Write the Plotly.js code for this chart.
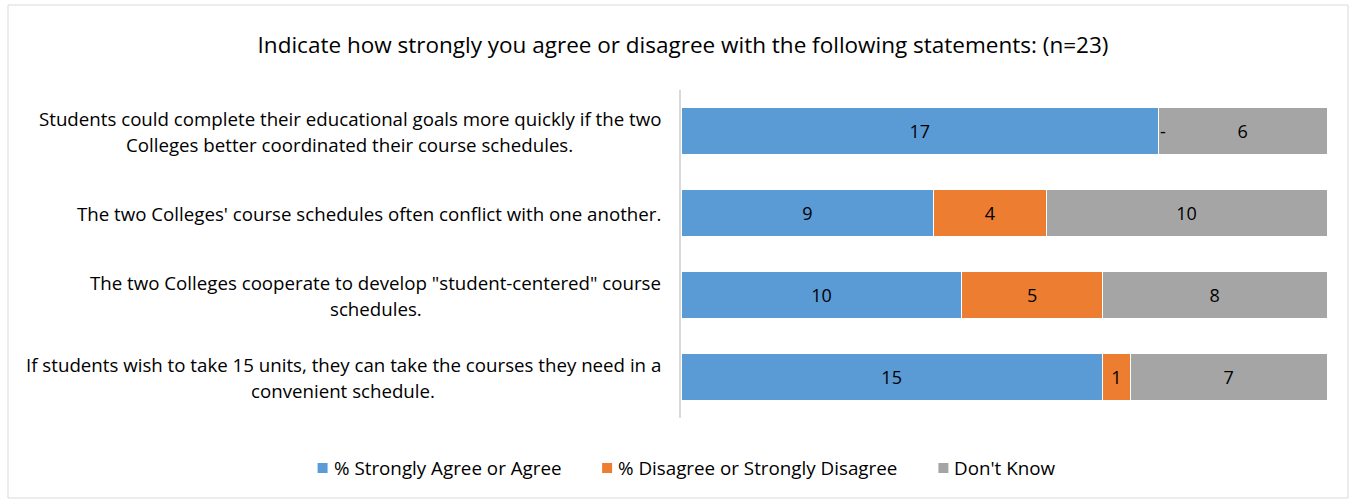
<!DOCTYPE html>
<html>
<head>
<meta charset="utf-8">
<script src="https://cdn.plot.ly/plotly-3.0.1.min.js"></script>
<style>
html,body{margin:0;padding:0;background:#fff;}
#chart{width:1356px;height:502px;}
</style>
</head>
<body>
<div id="chart"></div>
<script>
var chartTitle = "Indicate how strongly you agree or disagree with the following statements: (n=23)";
var categories = [
  "Students could complete their educational goals more quickly if the two<br>Colleges better coordinated their course schedules.",
  "The two Colleges' course schedules often conflict with one another.",
  "The two Colleges cooperate to develop \"student-centered\" course<br>schedules.",
  "If students wish to take 15 units, they can take the courses they need in a<br>convenient schedule."
];
var seriesNames = ["% Strongly Agree or Agree", "% Disagree or Strongly Disagree", "Don't Know"];
var agree    = [17, 9, 10, 15];
var disagree = [0, 4, 5, 1];
var dontKnow = [6, 10, 8, 7];
var colors = ["#5B9BD5", "#ED7D31", "#A5A5A5"];

var W = 1356, H = 502;
var M = {l: 681, r: 29, t: 90, b: 84};
var pw = W - M.l - M.r, ph = H - M.t - M.b;
function px2x(px){ return (px - M.l) / pw; }
function px2y(py){ return 1 - (py - M.t) / ph; }

var FAMILY = "Open Sans";
var FONT = "'Open Sans', sans-serif";
var LABEL_SIZE = 18.7, TITLE_SIZE = 22.5, LEGEND_SIZE = 18.8, DATA_SIZE = 18;
var LINE_H = 26;

var cnv = document.createElement("canvas").getContext("2d");
function textWidth(t, size){
  cnv.font = size + "px '" + FAMILY + "'";
  return cnv.measureText(t).width;
}

var series = [agree, disagree, dontKnow];
var traces = series.map(function(vals, i){
  return {
    type: "bar",
    orientation: "h",
    name: seriesNames[i],
    x: vals,
    y: categories,
    text: vals.map(function(v){ return v === 0 ? "" : String(v); }),
    textposition: "inside",
    insidetextanchor: "middle",
    textangle: 0,
    insidetextfont: {family: FONT, size: DATA_SIZE, color: "#000"},
    marker: {color: colors[i], line: {color: "#ffffff", width: 1}},
    hoverinfo: "x+name",
    showlegend: false
  };
});

var annotations = [];
var shapes = [];
// category labels: block right-aligned at 661px, lines centered within the block
var labelRight = 661;
categories.forEach(function(c){
  var lines = c.split("<br>");
  var n = lines.length;
  var maxW = 0;
  lines.forEach(function(l){ maxW = Math.max(maxW, textWidth(l, LABEL_SIZE)); });
  var center = labelRight - maxW / 2;
  lines.forEach(function(line, j){
    annotations.push({
      xref: "paper", yref: "y", x: px2x(center), y: c,
      xanchor: "center", yanchor: "middle", align: "center",
      text: line, showarrow: false,
      yshift: (n - 1) * LINE_H / 2 - j * LINE_H,
      font: {family: FONT, size: LABEL_SIZE, color: "#000"}
    });
  });
});
// "-" markers for zero values
series.forEach(function(vals, i){
  vals.forEach(function(v, k){
    if (v === 0){
      var start = 0;
      for (var s = 0; s < i; s++) start += series[s][k];
      annotations.push({
        xref: "x", yref: "y", x: start, y: categories[k],
        text: "-", showarrow: false, xanchor: "left", yanchor: "middle",
        font: {family: FONT, size: DATA_SIZE, color: "#000"}
      });
    }
  });
});

// legend: square marker + name, centred under the chart
var LEG_Y = 468, SYM = 10, SYM_GAP = 5, ITEM_GAP = 42;
var legW = [];
var totalW = 0;
seriesNames.forEach(function(nm, i){
  var w = SYM + SYM_GAP + textWidth(nm, LEGEND_SIZE);
  legW.push(w);
  totalW += w + (i > 0 ? ITEM_GAP : 0);
});
var lx = 686 - totalW / 2;
seriesNames.forEach(function(nm, i){
  shapes.push({
    type: "rect", xref: "paper", yref: "paper",
    x0: px2x(lx), x1: px2x(lx + SYM), y0: px2y(LEG_Y + SYM / 2), y1: px2y(LEG_Y - SYM / 2),
    line: {width: 0}, fillcolor: colors[i]
  });
  annotations.push({
    xref: "paper", yref: "paper", x: px2x(lx + SYM + SYM_GAP), y: px2y(LEG_Y),
    xanchor: "left", yanchor: "middle", text: nm, showarrow: false,
    font: {family: FONT, size: LEGEND_SIZE, color: "#000"}, borderpad: 0
  });
  lx += legW[i] + ITEM_GAP;
});

// outer chart border
shapes.push({
  type: "rect", xref: "paper", yref: "paper",
  x0: px2x(8), x1: px2x(1348), y0: px2y(498), y1: px2y(5),
  line: {color: "#D9D9D9", width: 1}, fillcolor: "rgba(0,0,0,0)", layer: "below"
});

var layout = {
  width: W, height: H,
  margin: M,
  paper_bgcolor: "rgba(0,0,0,0)",
  plot_bgcolor: "rgba(0,0,0,0)",
  barmode: "stack",
  bargap: 0.43,
  font: {family: FONT, size: LABEL_SIZE, color: "#000"},
  title: {
    text: chartTitle,
    font: {family: FONT, size: TITLE_SIZE, color: "#000"},
    x: 683 / W, xref: "container", xanchor: "center",
    y: 1 - 45 / H, yref: "container", yanchor: "middle"
  },
  xaxis: {range: [0, 23], showgrid: false, zeroline: false, showticklabels: false, ticks: "", showline: false, fixedrange: true},
  yaxis: {
    type: "category", autorange: "reversed",
    showticklabels: false, ticks: "", showgrid: false, zeroline: false,
    showline: true, linecolor: "#D9D9D9", linewidth: 2, fixedrange: true
  },
  showlegend: false,
  annotations: annotations,
  shapes: shapes
};

Plotly.newPlot("chart", traces, layout, {displayModeBar: false});
</script>
</body>
</html>
